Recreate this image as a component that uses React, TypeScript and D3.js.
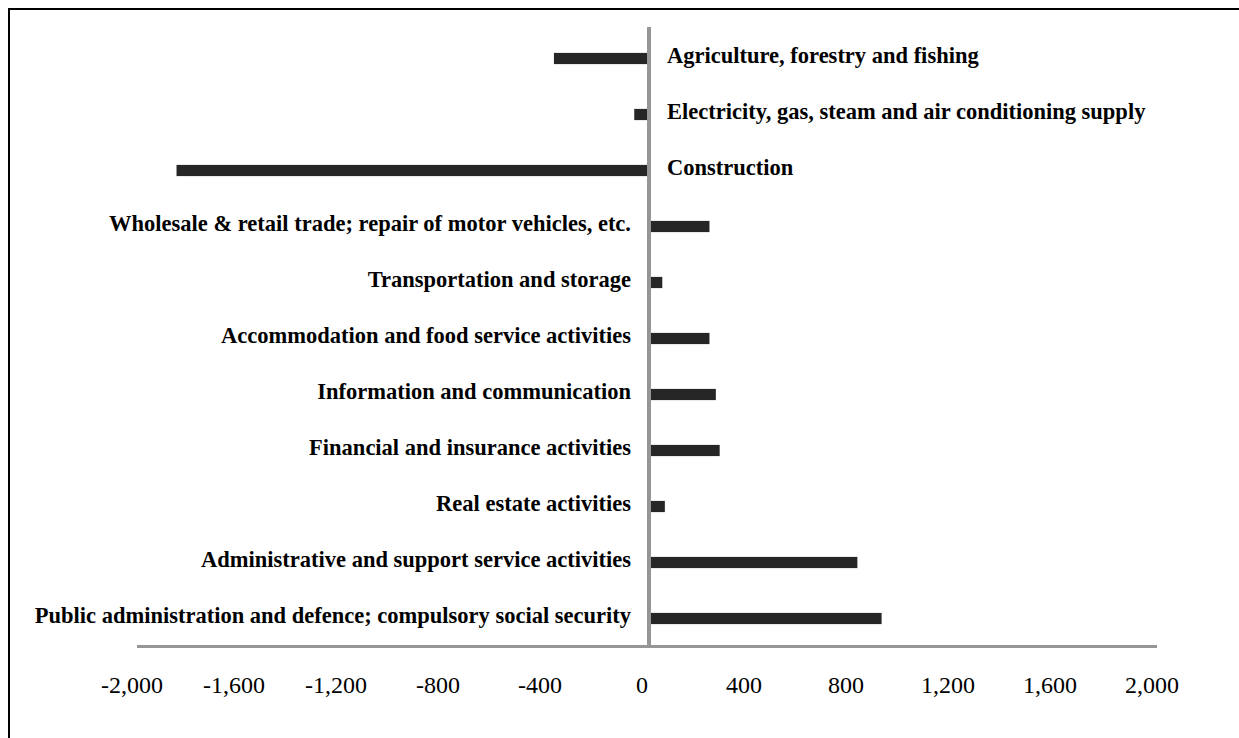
import React from "react";
import * as d3 from "d3";

// sectors, top to bottom
const categories = [
  "Agriculture, forestry and fishing",
  "Electricity, gas, steam and air conditioning supply",
  "Construction",
  "Wholesale & retail trade; repair of motor vehicles, etc.",
  "Transportation and storage",
  "Accommodation and food service activities",
  "Information and communication",
  "Financial and insurance activities",
  "Real estate activities",
  "Administrative and support service activities",
  "Public administration and defence; compulsory social security",
];

const values = [-365, -50, -1845, 245, 60, 245, 270, 285, 70, 825, 920];

const xTicks = [-2000, -1600, -1200, -800, -400, 0, 400, 800, 1200, 1600, 2000];

const data = categories.map((name, i) => ({ name, value: values[i] }));

const W = 1239;
const H = 738;

export default function App() {
  const x = d3.scaleLinear().domain([-2000, 2000]).range([137, 1157]);
  const y = d3
    .scaleBand<string>()
    .domain(categories)
    .range([30.5, 646.5])
    .paddingInner(0.8)
    .paddingOuter(0.4);

  const fmt = d3.format(",");
  const axisX = x(0) + 2;
  const axisY = 646.5;
  const serif = "'Liberation Serif', 'Times New Roman', serif";

  return (
    <svg
      width={W}
      height={H}
      style={{ position: "absolute", left: 0, top: 0, display: "block", background: "#fff" }}
    >
      {/* frame, running off the right and bottom edges */}
      <rect
        x={9}
        y={9}
        width={W + 20}
        height={H + 20}
        fill="none"
        stroke="#000"
        strokeWidth={2}
      />

      {/* bars */}
      {data.map((d) => (
        <rect
          key={d.name}
          x={Math.min(x(d.value), x(0))}
          y={y(d.name)}
          width={Math.abs(x(d.value) - x(0))}
          height={y.bandwidth()}
          fill="#262626"
        />
      ))}

      {/* axes */}
      <line
        x1={axisX}
        x2={axisX}
        y1={27}
        y2={axisY + 1.5}
        stroke="#969696"
        strokeWidth={4}
      />
      <line
        x1={x(-2000)}
        x2={x(2000)}
        y1={axisY}
        y2={axisY}
        stroke="#969696"
        strokeWidth={3}
      />

      {/* category labels on the opposite side of the bar */}
      {data.map((d) => (
        <text
          key={"l" + d.name}
          x={d.value < 0 ? axisX + 18 : axisX - 18}
          y={(y(d.name) ?? 0) + y.bandwidth() / 2 + 4}
          textAnchor={d.value < 0 ? "start" : "end"}
          fontFamily={serif}
          fontWeight="bold"
          fontSize={22.5}
          fill="#000"
        >
          {d.name}
        </text>
      ))}

      {/* tick labels */}
      {xTicks.map((t) => (
        <text
          key={"t" + t}
          x={x(t) - 5}
          y={692.5}
          textAnchor="middle"
          fontFamily={serif}
          fontSize={24}
          fill="#000"
        >
          {fmt(t).replace("−", "-")}
        </text>
      ))}
    </svg>
  );
}
